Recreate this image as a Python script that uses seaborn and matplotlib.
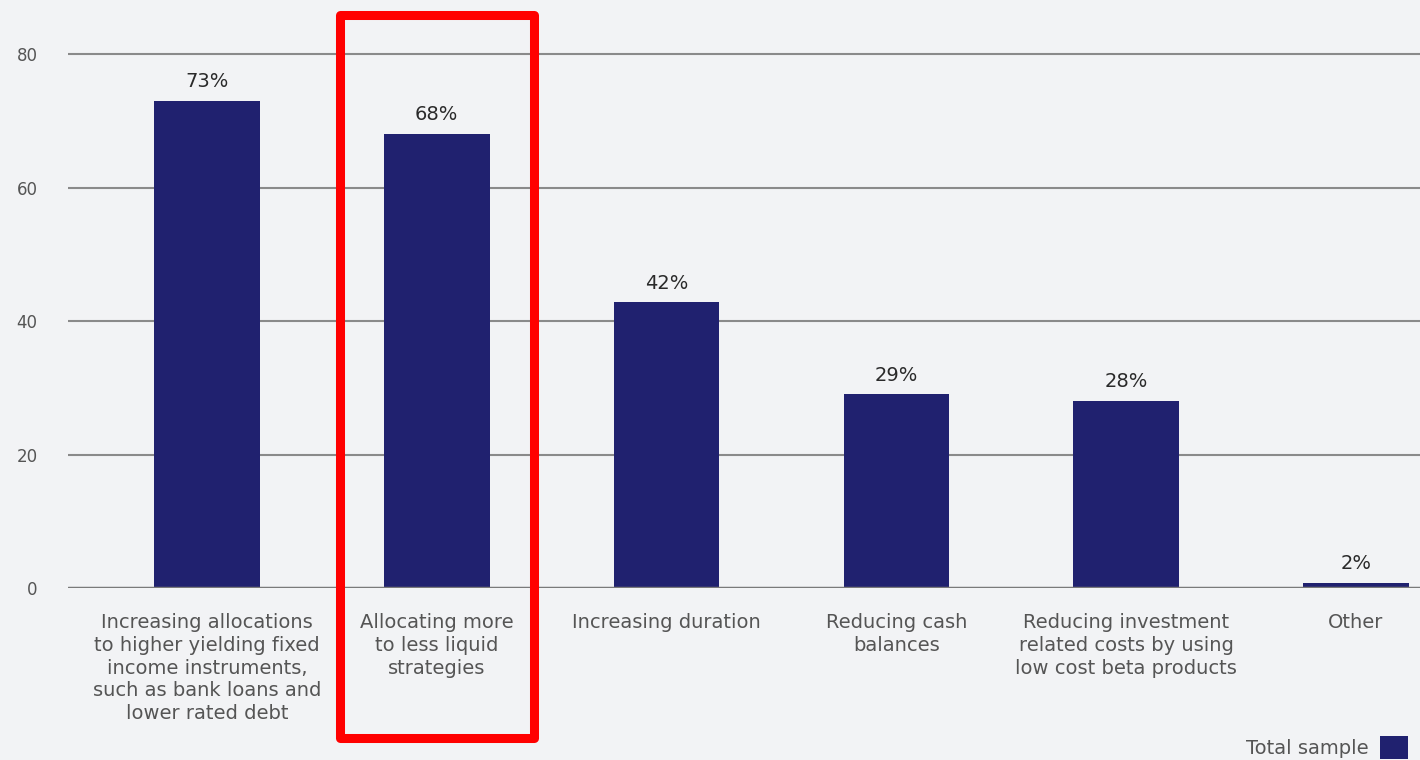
import matplotlib.pyplot as plt
import seaborn as sns
from matplotlib.patches import Rectangle, Patch
import matplotlib.transforms as mtransforms

# data
categories = ["Increasing allocations\nto higher yielding fixed\nincome instruments,\nsuch as bank loans and\nlower rated debt",
              "Allocating more\nto less liquid\nstrategies",
              "Increasing duration",
              "Reducing cash\nbalances",
              "Reducing investment\nrelated costs by using\nlow cost beta products",
              "Other"]
values = [73, 68, 42.8, 29, 28, 0.8]
value_labels = ["73%", "68%", "42%", "29%", "28%", "2%"]
yticks = [0, 20, 40, 60, 80]
highlight_idx = 1

bg = "#f2f3f5"
navy = "#20216f"

sns.set_style("white")
plt.rcParams["font.family"] = ["DejaVu Sans"]

fig = plt.figure(figsize=(14.2, 7.6), dpi=100, facecolor=bg)
ax = fig.add_axes([0.0479, 0.2263, 0.9521, 0.7737])
ax.set_facecolor(bg)

sns.barplot(x=categories, y=values, color=navy, saturation=1, width=0.46, ax=ax,
            edgecolor=navy, linewidth=0, zorder=3)

ax.set_xlim(-0.605, 5.279)
ax.set_ylim(0, 88.1)
ax.set_yticks(yticks)
ax.set_yticklabels([str(t) for t in yticks])
for t in yticks[1:]:
    ax.axhline(t, color="#8a8a8a", lw=1.5, zorder=1)
ax.axhline(0, color="#7a7a7a", lw=2.5, zorder=4)
sns.despine(ax=ax, left=True, bottom=True)
ax.tick_params(axis="y", length=0, pad=22, labelsize=12, labelcolor="#555555")
ax.tick_params(axis="x", length=0, pad=18, labelsize=14, labelcolor="#555555")
for lab in ax.get_xticklabels():
    lab.set_linespacing(1.25)
ax.set_xlabel("")
ax.set_ylabel("")

# value labels
for i, (v, s) in enumerate(zip(values, value_labels)):
    ax.annotate(s, (i, v), xytext=(0, 7), textcoords="offset points",
                ha="center", va="bottom", fontsize=14, color="#2a2a2a")

# red highlight box around one category
trans = mtransforms.blended_transform_factory(ax.transData, fig.transFigure)
box = Rectangle((highlight_idx - 0.422, 0.0296), 0.844, 0.951, transform=trans,
                fill=False, edgecolor="#ff0000", lw=6.5, clip_on=False, zorder=10,
                joinstyle="round")
fig.patches.append(box)

# legend
handle = Patch(facecolor=navy, edgecolor="none")
fig.legend([handle], ["Total sample"], loc="lower right", bbox_to_anchor=(1.004, -0.022),
           frameon=False, markerfirst=False, handlelength=1.45, handleheight=1.45,
           handletextpad=0.6, prop={"size": 14}, labelcolor="#555555")

fig.savefig("out.png", dpi=100, facecolor=bg)
